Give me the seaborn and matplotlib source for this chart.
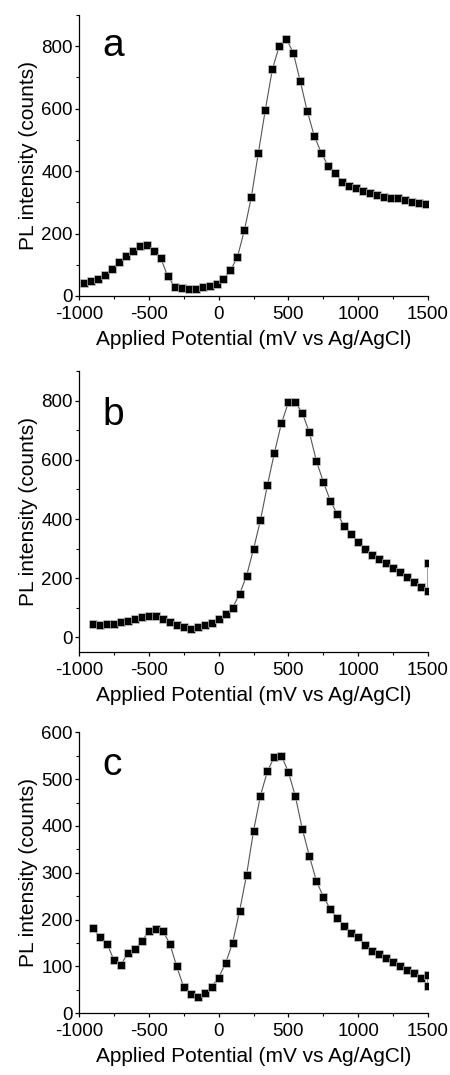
import numpy as np
import pandas as pd
import matplotlib
matplotlib.use("Agg")
import matplotlib.pyplot as plt
import seaborn as sns
from matplotlib.ticker import MultipleLocator

sns.set_theme(style="ticks")
plt.rcParams['font.family'] = ['Liberation Sans', 'DejaVu Sans']
plt.rcParams['axes.unicode_minus'] = False

# Panel a
x_a = [-965, -915, -865, -815, -765, -715, -665, -615, -565, -515,
       -465, -415, -365, -315, -265, -215, -165, -115, -65, -15,
       35, 85, 135, 185, 235, 285, 335, 385, 435, 485,
       535, 585, 635, 685, 735, 785, 835, 885, 935, 985,
       1035, 1085, 1135, 1185, 1235, 1285, 1335, 1385, 1435, 1485]
y_a = [43, 49, 55, 68, 87, 109, 129, 145, 159, 162,
       145, 122, 64, 30, 26, 24, 21, 28, 33, 40,
       54, 82, 125, 211, 318, 459, 597, 726, 801, 824,
       779, 688, 592, 513, 459, 416, 395, 366, 353, 345,
       336, 330, 323, 318, 315, 313, 307, 302, 299, 296]

# Panel b
x_b = [-900, -850, -800, -750, -700, -650, -600, -550, -500, -450,
       -400, -350, -300, -250, -200, -150, -100, -50, 0, 50,
       100, 150, 200, 250, 300, 350, 400, 450, 500, 550,
       600, 650, 700, 750, 800, 850, 900, 950, 1000, 1050,
       1100, 1150, 1200, 1250, 1300, 1350, 1400, 1450, 1500, 1500]
y_b = [47, 43, 45, 47, 52, 56, 61, 68, 72, 72,
       64, 53, 41, 36, 30, 36, 41, 50, 62, 79,
       101, 146, 208, 298, 397, 515, 624, 723, 794, 794,
       758, 693, 597, 526, 462, 417, 377, 351, 322, 300,
       279, 265, 250, 234, 220, 203, 186, 171, 158, 250]

# Panel c
x_c = [-900, -850, -800, -750, -700, -650, -600, -550, -500, -450,
       -400, -350, -300, -250, -200, -150, -100, -50, 0, 50,
       100, 150, 200, 250, 300, 350, 400, 450, 500, 550,
       600, 650, 700, 750, 800, 850, 900, 950, 1000, 1050,
       1100, 1150, 1200, 1250, 1300, 1350, 1400, 1450, 1500, 1500]
y_c = [182, 162, 149, 114, 103, 129, 137, 154, 176, 180,
       176, 149, 100, 56, 41, 34, 43, 57, 76, 107,
       150, 218, 295, 389, 465, 517, 548, 550, 515, 463,
       393, 336, 283, 249, 223, 204, 187, 172, 162, 145,
       133, 126, 119, 109, 100, 92, 85, 76, 82, 58]

panel_labels = ["a", "b", "c"]
x_label = "Applied Potential (mV vs Ag/AgCl)"
y_label = "PL intensity (counts)"

fig = plt.figure(figsize=(4.5, 10.75), dpi=100)
left, width = 79 / 450, 349 / 450
axes_specs = [
    # bottom, height, ylim, y major, y minor, label y frac
    (1 - 296 / 1075, 281 / 1075, (0, 900), 200, 100, 0.854),
    (1 - 652.3 / 1075, 281.3 / 1075, (-50, 900), 200, 100, 0.808),
    (1 - 1013.3 / 1075, 281 / 1075, (0, 600), 100, 50, 0.848),
]
datasets = [(x_a, y_a), (x_b, y_b), (x_c, y_c)]

for (bottom, height, ylim, ymaj, ymin, lab_y), (xs, ys), lab in zip(axes_specs, datasets, panel_labels):
    ax = fig.add_axes([left, bottom, width, height])
    df = pd.DataFrame({"x": xs, "y": ys})
    sns.lineplot(data=df, x="x", y="y", ax=ax, estimator=None, sort=False,
                 color="#555555", linewidth=0.8, marker="s", markersize=6.0,
                 markerfacecolor="black", markeredgecolor="#dddddd",
                 markeredgewidth=0.4, clip_on=True)
    ax.set_xlim(-1000, 1500)
    ax.set_ylim(*ylim)
    ax.xaxis.set_major_locator(MultipleLocator(500))
    ax.xaxis.set_minor_locator(MultipleLocator(250))
    ax.yaxis.set_major_locator(MultipleLocator(ymaj))
    ax.yaxis.set_minor_locator(MultipleLocator(ymin))
    sns.despine(ax=ax)
    for s in ["left", "bottom"]:
        ax.spines[s].set_linewidth(0.9)
        ax.spines[s].set_color("black")
    ax.tick_params(axis="both", which="major", length=3, width=0.9,
                   labelsize=13.5, color="black", labelcolor="black")
    ax.tick_params(axis="x", which="major", pad=4)
    ax.tick_params(axis="y", which="major", pad=1.5)
    ax.tick_params(axis="both", which="minor", length=2.2, width=0.8, color="black")
    ax.set_xlabel(x_label, fontsize=15, labelpad=5, color="black")
    ax.set_ylabel(y_label, fontsize=15, labelpad=2, color="black")
    ax.text(0.066, lab_y, lab, transform=ax.transAxes, fontsize=28,
            va="baseline", ha="left", color="black")
    ax.set_facecolor("white")

fig.savefig("out.png", dpi=100, facecolor="white")
